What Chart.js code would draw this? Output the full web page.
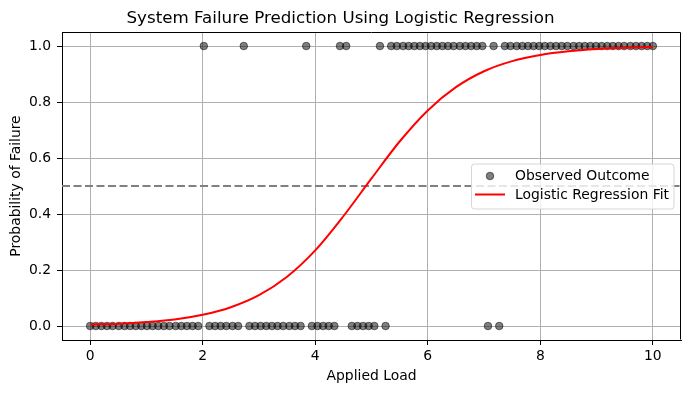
<!DOCTYPE html>
<html>
<head>
<meta charset="utf-8">
<script src="https://cdn.jsdelivr.net/npm/chart.js@4.4.1/dist/chart.umd.min.js"></script>
<style>
  html, body { margin: 0; padding: 0; background: #fff; }
  canvas { display: block; }
</style>
</head>
<body>
<canvas id="c" width="691" height="393"></canvas>
<script>
// ---- data ----
const chartTitle = 'System Failure Prediction Using Logistic Regression';
const xAxisTitle = 'Applied Load';
const yAxisTitle = 'Probability of Failure';

const observedLoad = [
  0.00, 0.10, 0.20, 0.30, 0.40, 0.51, 0.61, 0.71, 0.81, 0.91,
  1.01, 1.11, 1.21, 1.31, 1.41, 1.52, 1.62, 1.72, 1.82, 1.92,
  2.02, 2.12, 2.22, 2.32, 2.42, 2.53, 2.63, 2.73, 2.83, 2.93,
  3.03, 3.13, 3.23, 3.33, 3.43, 3.54, 3.64, 3.74, 3.84, 3.94,
  4.04, 4.14, 4.24, 4.34, 4.44, 4.55, 4.65, 4.75, 4.85, 4.95,
  5.05, 5.15, 5.25, 5.35, 5.45, 5.56, 5.66, 5.76, 5.86, 5.96,
  6.06, 6.16, 6.26, 6.36, 6.46, 6.57, 6.67, 6.77, 6.87, 6.97,
  7.07, 7.17, 7.27, 7.37, 7.47, 7.58, 7.68, 7.78, 7.88, 7.98,
  8.08, 8.18, 8.28, 8.38, 8.48, 8.59, 8.69, 8.79, 8.89, 8.99,
  9.09, 9.19, 9.29, 9.39, 9.49, 9.60, 9.70, 9.80, 9.90, 10.00
];
const observedOutcome = [
  0, 0, 0, 0, 0, 0, 0, 0, 0, 0,
  0, 0, 0, 0, 0, 0, 0, 0, 0, 0,
  1, 0, 0, 0, 0, 0, 0, 1, 0, 0,
  0, 0, 0, 0, 0, 0, 0, 0, 1, 0,
  0, 0, 0, 0, 1, 1, 0, 0, 0, 0,
  0, 1, 0, 1, 1, 1, 1, 1, 1, 1,
  1, 1, 1, 1, 1, 1, 1, 1, 1, 1,
  0, 1, 0, 1, 1, 1, 1, 1, 1, 1,
  1, 1, 1, 1, 1, 1, 1, 1, 1, 1,
  1, 1, 1, 1, 1, 1, 1, 1, 1, 1
];

const fitLoad = [0, 0.5, 1, 1.5, 2, 2.5, 3, 3.5, 4, 4.5, 5, 5.5, 6, 6.5, 7, 7.5, 8, 8.5, 9, 9.5, 10];
const fitProbability = [0.005, 0.008, 0.014, 0.023, 0.040, 0.067, 0.110, 0.176, 0.270, 0.392,
                        0.527, 0.659, 0.770, 0.853, 0.910, 0.946, 0.968, 0.981, 0.989, 0.994, 0.996];

const thresholdLoad = [-0.5, 10.5];
const thresholdProbability = [0.5, 0.5];

const xTickValues = [0, 2, 4, 6, 8, 10];
const yTickValues = [0.0, 0.2, 0.4, 0.6, 0.8, 1.0];

const legendLabels = ['Observed Outcome', 'Logistic Regression Fit'];

// ---- build chart ----
const FONT = "'DejaVu Sans', 'Liberation Sans', sans-serif";

const scatterPoints = observedLoad.map((x, i) => ({ x: x, y: observedOutcome[i] }));
const fitPoints = fitLoad.map((x, i) => ({ x: x, y: fitProbability[i] }));
const thresholdPoints = thresholdLoad.map((x, i) => ({ x: x, y: thresholdProbability[i] }));

const framePlugin = {
  id: 'frame',
  afterDraw(chart) {
    const { ctx, chartArea: a } = chart;
    ctx.save();
    // top & right spines
    ctx.strokeStyle = '#000';
    ctx.lineWidth = 1;
    ctx.beginPath();
    ctx.moveTo(Math.round(a.left) + 0.5, Math.round(a.top) + 0.5);
    ctx.lineTo(Math.round(a.right) - 0.5, Math.round(a.top) + 0.5);
    ctx.lineTo(Math.round(a.right) - 0.5, Math.round(a.bottom) - 0.5);
    ctx.stroke();

    // legend (inside the plot, center right)
    const bx = 471.5, by = 164, bw = 202.5, bh = 45;
    ctx.beginPath();
    if (ctx.roundRect) ctx.roundRect(bx, by, bw, bh, 3); else ctx.rect(bx, by, bw, bh);
    ctx.fillStyle = 'rgba(255,255,255,0.8)';
    ctx.fill();
    ctx.strokeStyle = '#d6d6d6';
    ctx.lineWidth = 1;
    ctx.stroke();

    // marker
    ctx.beginPath();
    ctx.arc(490, 176, 3.8, 0, Math.PI * 2);
    ctx.fillStyle = 'rgba(0,0,0,0.5)';
    ctx.fill();
    ctx.strokeStyle = 'rgba(0,0,0,0.5)';
    ctx.lineWidth = 1;
    ctx.stroke();
    // line sample
    ctx.beginPath();
    ctx.moveTo(475, 194.5);
    ctx.lineTo(505, 194.5);
    ctx.strokeStyle = '#ff0000';
    ctx.lineWidth = 2;
    ctx.stroke();

    ctx.fillStyle = '#000';
    ctx.font = '13.9px ' + FONT;
    ctx.textAlign = 'left';
    ctx.textBaseline = 'middle';
    ctx.fillText(legendLabels[0], 515, 176);
    ctx.fillText(legendLabels[1], 515, 195);
    ctx.restore();
  }
};

new Chart(document.getElementById('c'), {
  type: 'scatter',
  data: {
    datasets: [
      {
        label: legendLabels[1],
        type: 'line',
        data: fitPoints,
        borderColor: '#ff0000',
        borderWidth: 2,
        pointRadius: 0,
        fill: false,
        cubicInterpolationMode: 'monotone',
        order: 1
      },
      {
        label: 'threshold',
        type: 'line',
        data: thresholdPoints,
        borderColor: '#808080',
        borderWidth: 2,
        borderDash: [8, 3.5],
        pointRadius: 0,
        fill: false,
        order: 2
      },
      {
        label: legendLabels[0],
        data: scatterPoints,
        pointRadius: 3.8,
        pointBorderWidth: 1,
        pointBackgroundColor: 'rgba(0,0,0,0.5)',
        pointBorderColor: 'rgba(0,0,0,0.5)',
        order: 3
      }
    ]
  },
  options: {
    responsive: false,
    animation: false,
    devicePixelRatio: 1,
    layout: { padding: { left: 0, right: 10, top: 0, bottom: 0 } },
    plugins: {
      legend: { display: false },
      tooltip: { enabled: false },
      title: {
        display: true,
        text: chartTitle,
        color: '#000',
        font: { family: FONT, size: 16.7, weight: 'normal', lineHeight: 1.2 },
        padding: { top: 8.2, bottom: 3.8 }
      }
    },
    scales: {
      x: {
        type: 'linear',
        min: -0.5,
        max: 10.5,
        afterBuildTicks(scale) { scale.ticks = xTickValues.map(v => ({ value: v })); },
        afterFit(scale) { scale.height = 53; },
        ticks: {
          color: '#000',
          font: { family: FONT, size: 13.9 },
          padding: 3,
          maxRotation: 0,
          callback: (v) => String(v)
        },
        grid: { color: '#b0b0b0', lineWidth: 1, tickColor: '#000', tickLength: 5 },
        border: { display: true, color: '#000', width: 1 },
        title: {
          display: true,
          text: xAxisTitle,
          color: '#000',
          font: { family: FONT, size: 13.9, lineHeight: 1.2 },
          padding: { top: 0, bottom: 8.5 }
        }
      },
      y: {
        type: 'linear',
        min: -0.05,
        max: 1.05,
        afterBuildTicks(scale) { scale.ticks = yTickValues.map(v => ({ value: v })); },
        afterFit(scale) { scale.width = 62; },
        ticks: {
          color: '#000',
          font: { family: FONT, size: 13.9 },
          padding: 6,
          callback: (v) => Number(v).toFixed(1)
        },
        grid: { color: '#b0b0b0', lineWidth: 1, tickColor: '#000', tickLength: 5 },
        border: { display: true, color: '#000', width: 1 },
        title: {
          display: true,
          text: yAxisTitle,
          color: '#000',
          font: { family: FONT, size: 13.9, lineHeight: 1.2 },
          padding: { top: 7.6, bottom: 0 }
        }
      }
    }
  },
  plugins: [framePlugin]
});
</script>
</body>
</html>
